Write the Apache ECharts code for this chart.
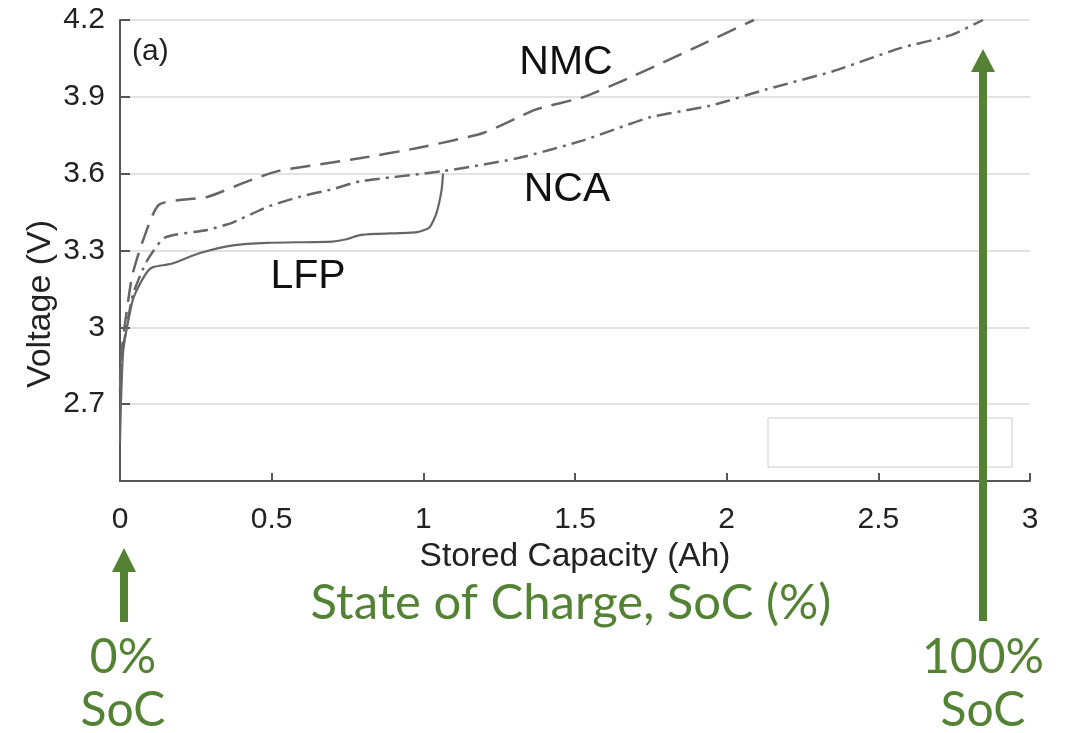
<!DOCTYPE html>
<html>
<head>
<meta charset="utf-8">
<script src="https://cdn.jsdelivr.net/npm/echarts@6/dist/echarts.min.js"></script>
<style>
html,body{margin:0;padding:0;background:#ffffff;}
#chart{width:1066px;height:733px;}
</style>
</head>
<body>
<div id="chart"></div>
<script>
// ---- data (Stored capacity Ah, Voltage V) ----
const nmcCapacity = [0.0, 0.005, 0.016, 0.04, 0.076, 0.13, 0.29, 0.42, 0.52, 0.79, 0.98, 1.20, 1.37, 1.53, 1.69, 1.91, 2.09];
const nmcVoltage  = [2.75, 2.90, 3.01, 3.20, 3.34, 3.48, 3.51, 3.57, 3.61, 3.66, 3.70, 3.76, 3.85, 3.90, 3.98, 4.10, 4.20];

const ncaCapacity = [0.0, 0.01, 0.025, 0.043, 0.089, 0.148, 0.287, 0.373, 0.485, 0.593, 0.702, 0.791, 1.065, 1.309, 1.527, 1.747, 1.945, 2.133, 2.351, 2.572, 2.737, 2.845];
const ncaVoltage  = [2.80, 2.92, 3.02, 3.13, 3.26, 3.35, 3.38, 3.41, 3.47, 3.51, 3.54, 3.57, 3.61, 3.66, 3.73, 3.82, 3.865, 3.93, 4.00, 4.09, 4.14, 4.20];

const lfpCapacity = [0.0, 0.003, 0.01, 0.023, 0.043, 0.066, 0.092, 0.109, 0.155, 0.175, 0.264, 0.373, 0.485, 0.70, 0.75, 0.79, 0.85, 0.98, 1.02, 1.043, 1.06, 1.065];
const lfpVoltage  = [2.55, 2.70, 2.90, 3.00, 3.11, 3.17, 3.22, 3.235, 3.245, 3.25, 3.29, 3.32, 3.33, 3.335, 3.345, 3.36, 3.365, 3.372, 3.39, 3.445, 3.535, 3.60];

const xTicks = [0, 0.5, 1, 1.5, 2, 2.5, 3];
const yTicks = [2.7, 3, 3.3, 3.6, 3.9, 4.2];
const yMin = 2.4;

const seriesNames = ['NMC', 'NCA', 'LFP'];
const xAxisTitle = 'Stored Capacity (Ah)';
const yAxisTitle = 'Voltage (V)';
const panelTag = '(a)';
const socTitle = 'State of Charge, SoC (%)';
const socLow = ['0%', 'SoC'];
const socHigh = ['100%', 'SoC'];

function pairs(xs, ys){ return xs.map((x,i)=>[x, ys[i]]); }

const GREEN = '#548235';
const LINE = '#666666';
const AXIS = '#555555';
const SANS = '"Liberation Sans", Arial, Helvetica, sans-serif';
const SOCFONT = 'Lato, "Open Sans", sans-serif';

const chart = echarts.init(document.getElementById('chart'), null, {renderer:'canvas'});

const option = {
  animation:false,
  backgroundColor:'#ffffff',
  grid:{left:120, right:36, top:20, bottom:252, containLabel:false},
  xAxis:{
    type:'value', min:xTicks[0], max:xTicks[xTicks.length-1], interval:0.5,
    axisLine:{show:true, onZero:false, lineStyle:{color:AXIS, width:2}},
    axisTick:{show:true, inside:true, length:8, lineStyle:{color:AXIS, width:2}},
    axisLabel:{color:'#222', fontSize:30, fontFamily:SANS, margin:24,
      formatter:v=>String(+v.toFixed(1))},
    splitLine:{show:false},
    name:xAxisTitle, nameLocation:'middle', nameGap:52,
    nameTextStyle:{color:'#222', fontSize:33.5, fontFamily:SANS}
  },
  yAxis:{
    type:'value', min:yMin, max:yTicks[yTicks.length-1], interval:0.3,
    axisLine:{show:true, onZero:false, lineStyle:{color:AXIS, width:2}},
    axisTick:{show:true, inside:true, length:10, lineStyle:{color:AXIS, width:2}},
    axisLabel:{color:'#222', fontSize:30, fontFamily:SANS, margin:15,
      formatter:v=>{const r=+v.toFixed(1); return yTicks.some(t=>Math.abs(t-r)<1e-6)?String(r):'';}},
    splitLine:{show:true, lineStyle:{color:'#e2e2e2', width:2}}
  },
  series:[
    {name:seriesNames[0], type:'line', data:pairs(nmcCapacity,nmcVoltage), showSymbol:false, symbol:'none',
     smooth:0.2, z:3,
     lineStyle:{color:LINE, width:2.5, type:[20,10]}},
    {name:seriesNames[1], type:'line', data:pairs(ncaCapacity,ncaVoltage), showSymbol:false, symbol:'none',
     smooth:0.2, z:3,
     lineStyle:{color:LINE, width:2.5, type:[15,6,3,6]}},
    {name:seriesNames[2], type:'line', data:pairs(lfpCapacity,lfpVoltage), showSymbol:false, symbol:'none',
     smooth:0.2, z:3,
     lineStyle:{color:LINE, width:2.2, type:'solid'}}
  ]
};
chart.setOption(option);

function arrow(cx, tipY, baseY, bottomY, shaftW, headHalf){
  return [
    {type:'polygon', z:100, shape:{points:[[cx,tipY],[cx+headHalf,baseY],[cx-headHalf,baseY]]}, style:{fill:GREEN}},
    {type:'rect', z:100, shape:{x:cx-shaftW/2, y:baseY-1, width:shaftW, height:bottomY-baseY+1}, style:{fill:GREEN}}
  ];
}
function txt(x, y, text, size, color, family, align, extra){
  return Object.assign({type:'text', z:100, x:x, y:y,
    style:{text:text, fontSize:size, fill:color, fontFamily:family, align:align||'center', verticalAlign:'middle'}}, extra||{});
}

const graphics = [
  // empty legend box
  {type:'rect', z:50, shape:{x:768, y:418, width:244, height:49}, style:{fill:'#ffffff', stroke:'#cccccc', lineWidth:1}},
  txt(132, 52, panelTag, 30, '#222', SANS, 'left'),
  txt(566, 63, seriesNames[0], 41, '#111', SANS),
  txt(567, 190, seriesNames[1], 41, '#111', SANS),
  txt(308, 277, seriesNames[2], 41, '#111', SANS),
  {type:'text', z:100, x:41, y:304, rotation:Math.PI/2,
    style:{text:yAxisTitle, fontSize:34, fill:'#222', fontFamily:SANS, align:'center', verticalAlign:'middle'}},
  ...arrow(983, 49, 72, 621, 8, 12),
  ...arrow(124, 548, 572, 622, 8, 12),
  txt(571, 603, socTitle, 49, GREEN, SOCFONT),
  txt(123, 658, socLow[0], 48, GREEN, SOCFONT),
  txt(123, 711, socLow[1], 48, GREEN, SOCFONT),
  txt(983, 658, socHigh[0], 48, GREEN, SOCFONT),
  txt(983, 711, socHigh[1], 48, GREEN, SOCFONT)
];
chart.setOption({graphic:graphics});
</script>
</body>
</html>
